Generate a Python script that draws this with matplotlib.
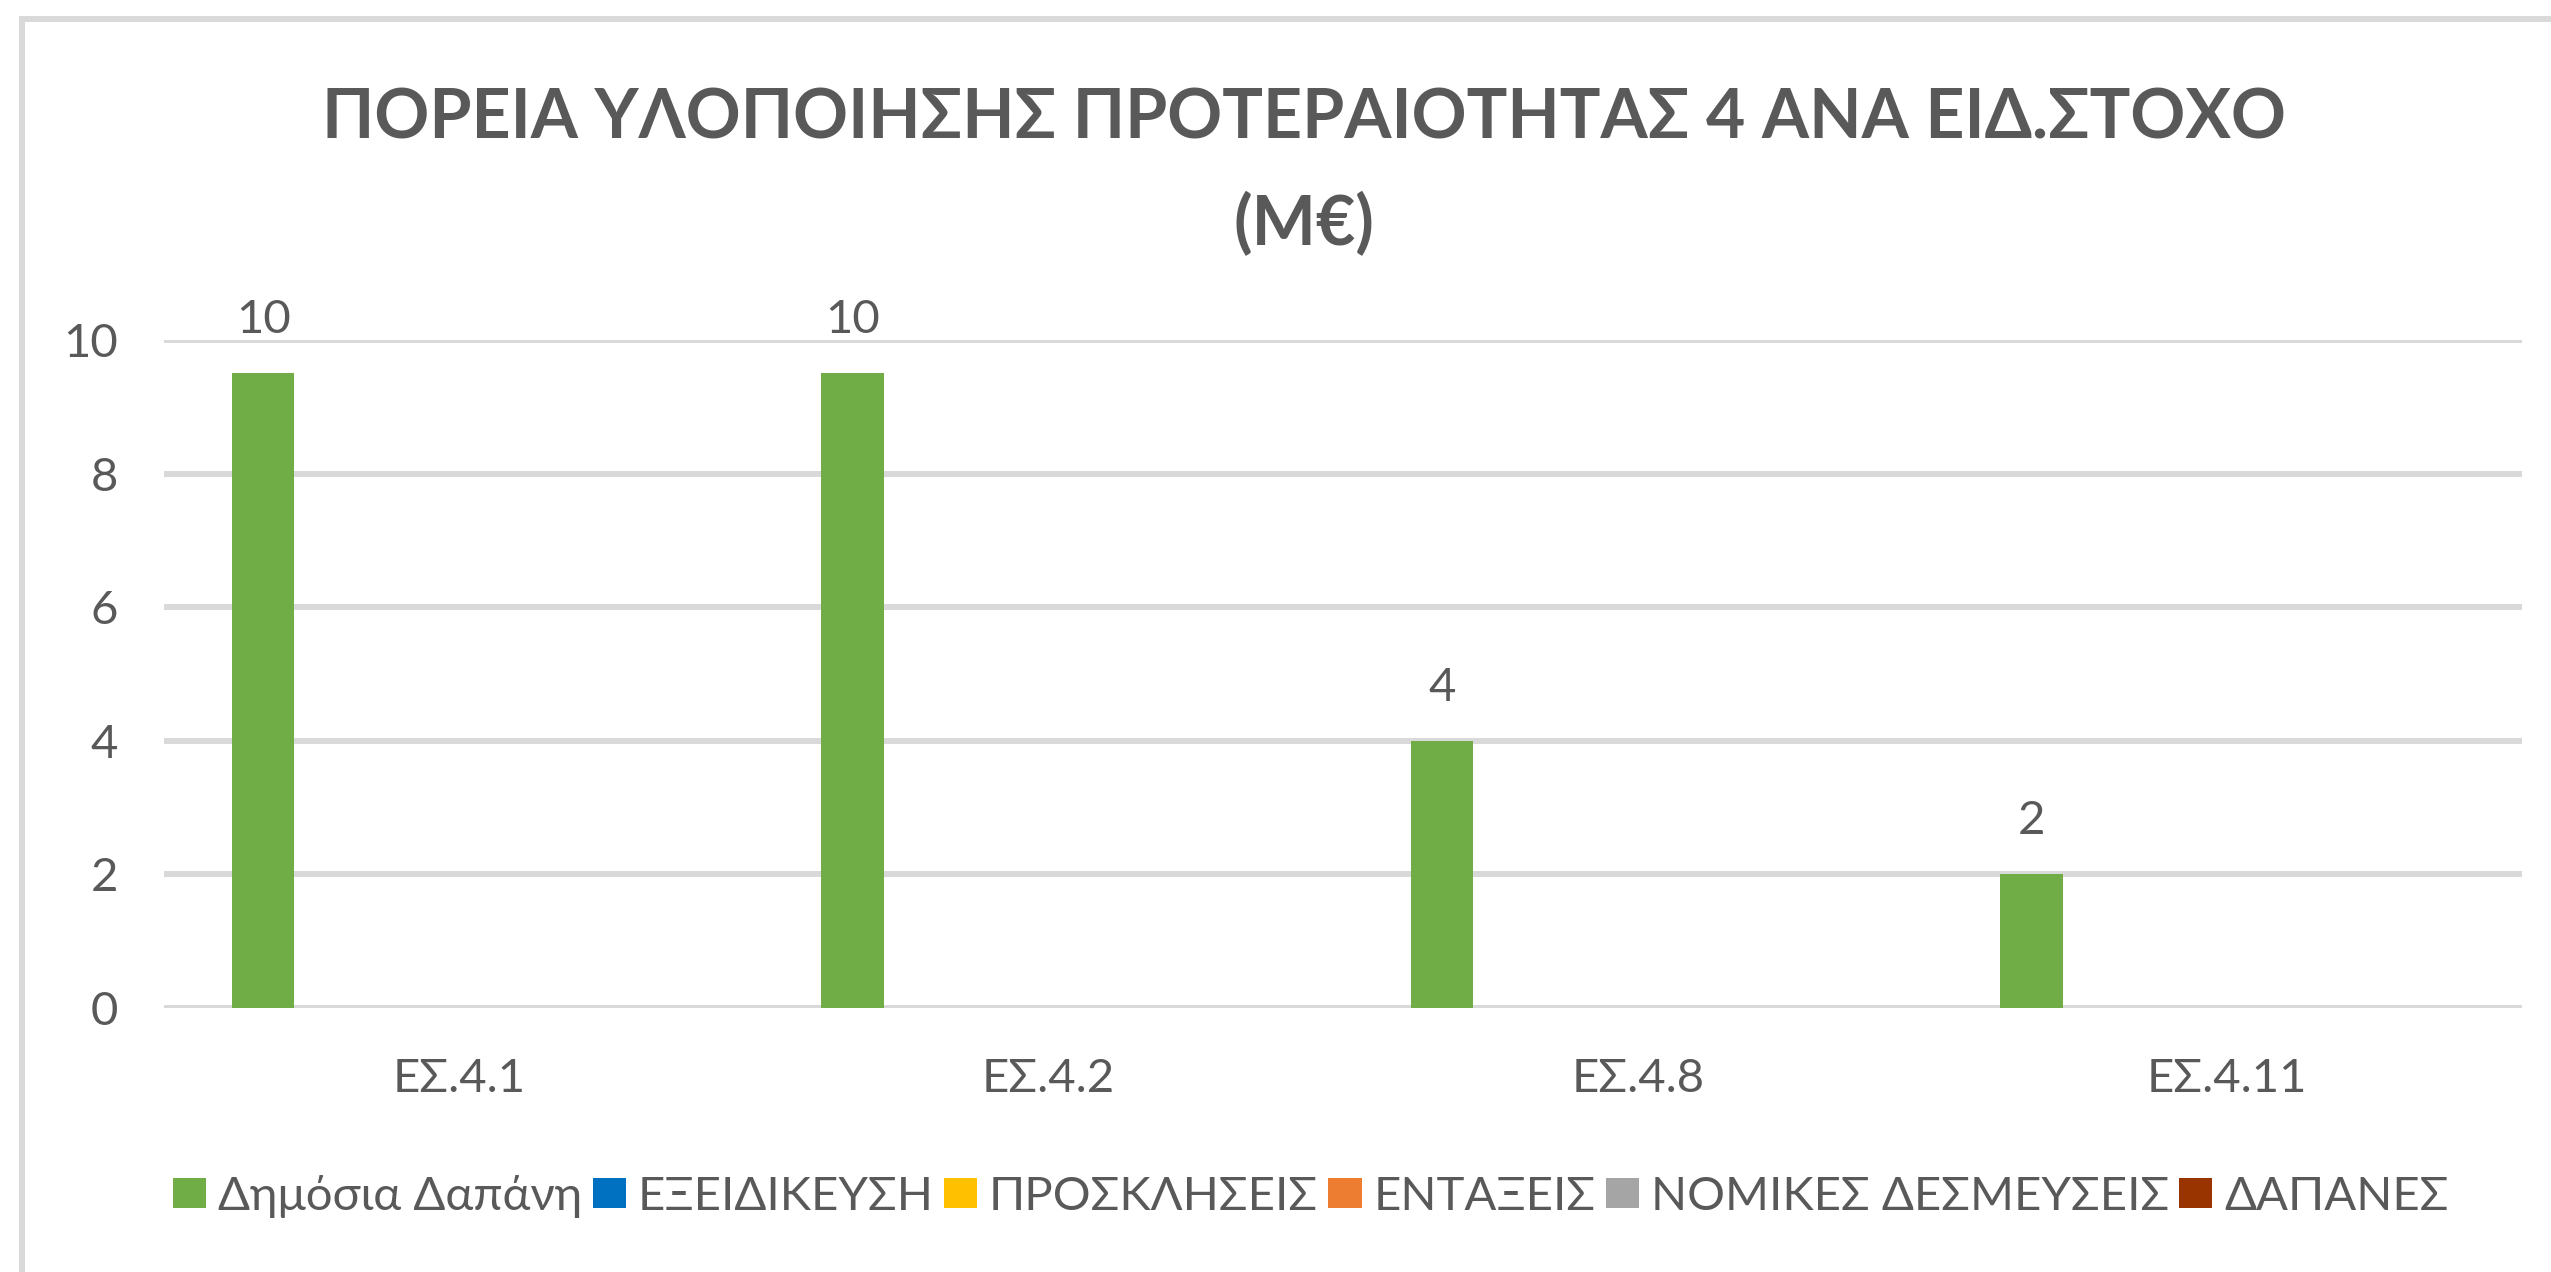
import numpy as np
import matplotlib.pyplot as plt
from matplotlib.lines import Line2D

plt.rcParams['font.family'] = ['Lato', 'DejaVu Sans']

categories = ["ΕΣ.4.1", "ΕΣ.4.2", "ΕΣ.4.8", "ΕΣ.4.11"]
series_names = ["Δημόσια Δαπάνη", "ΕΞΕΙΔΙΚΕΥΣΗ", "ΠΡΟΣΚΛΗΣΕΙΣ", "ΕΝΤΑΞΕΙΣ",
                "ΝΟΜΙΚΕΣ ΔΕΣΜΕΥΣΕΙΣ", "ΔΑΠΑΝΕΣ"]
dimosia_dapani = [9.5, 9.5, 4.0, 2.0]
exeidikeusi = [0, 0, 0, 0]
prosklhseis = [0, 0, 0, 0]
entaxeis = [0, 0, 0, 0]
nomikes_desmeuseis = [0, 0, 0, 0]
dapanes = [0, 0, 0, 0]
colors = ["#70AD47", "#0070C0", "#FFC000", "#ED7D31", "#A5A5A5", "#993300"]

values = [dimosia_dapani, exeidikeusi, prosklhseis, entaxeis, nomikes_desmeuseis, dapanes]

text_col = "#595959"
grid_col = "#D9D9D9"
fs = 34

fig = plt.figure(figsize=(25.51, 12.72), dpi=100)
ax = fig.add_axes([164/2551, 1-1008/1272, (2522-164)/2551, (1008-340)/1272])

x = np.arange(len(categories))
w = 0.106
start = -0.385
for i, (name, vals) in enumerate(zip(series_names, values)):
    bars = ax.bar(x + start + w/2 + i*w, vals, width=w, color=colors[i], label=name)
    if i == 0:
        ax.bar_label(bars, labels=[str(int(v + 0.5)) for v in vals], padding=23,
                     fontsize=fs, color=text_col)

ax.set_xlim(-0.5, len(categories) - 0.5)
ax.set_ylim(0, 10)
ax.set_yticks(np.arange(0, 11, 2))
ax.set_xticks(x)
ax.set_xticklabels(categories)
ax.tick_params(axis='both', length=0, labelsize=fs, colors=text_col)
ax.tick_params(axis='y', pad=33)
ax.tick_params(axis='x', pad=36)
for s in ax.spines.values():
    s.set_visible(False)
ax.grid(axis='y', color=grid_col, linewidth=4.3)
ax.set_axisbelow(True)

fig.text(1304/2551, 1-119/1272, "ΠΟΡΕΙΑ ΥΛΟΠΟΙΗΣΗΣ ΠΡΟΤΕΡΑΙΟΤΗΤΑΣ 4 ΑΝΑ ΕΙΔ.ΣΤΟΧΟ",
         ha='center', va='center', fontsize=49, fontweight='bold', color=text_col)
fig.text(1304/2551, 1-224/1272, "(Μ€)",
         ha='center', va='center', fontsize=49, fontweight='bold', color=text_col)

fig.legend(loc='center', bbox_to_anchor=(1311/2551, 1-1196/1272), ncol=6,
           frameon=False, fontsize=fs, labelcolor=text_col,
           handlelength=0.7, handleheight=0.6, handletextpad=0.25,
           columnspacing=0.22, borderpad=0)

# chart area border (only top and left are visible in the crop)
fig.add_artist(Line2D([22/2551, 1], [1-19/1272, 1-19/1272], color=grid_col, linewidth=4.3))
fig.add_artist(Line2D([22/2551, 22/2551], [0, 1-19/1272], color=grid_col, linewidth=4.3))

fig.savefig("out.png", dpi=100)
